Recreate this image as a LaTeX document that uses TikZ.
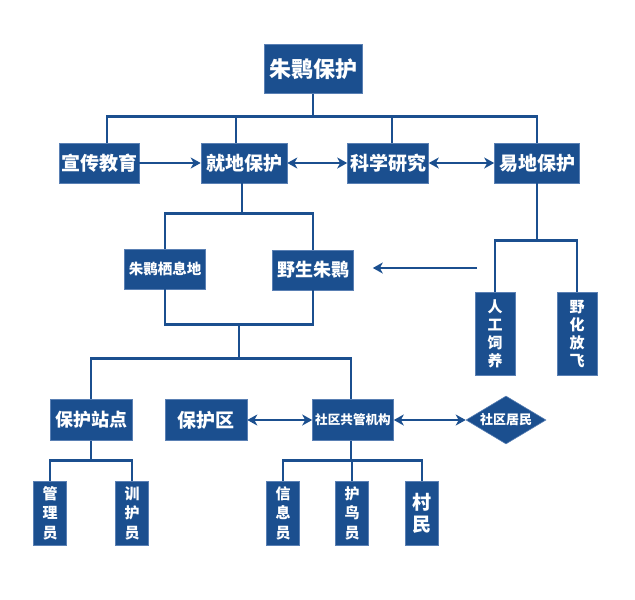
\documentclass[tikz,border=0pt]{standalone}
\usepackage{fontspec}
\usepackage{tikz}
\usetikzlibrary{arrows.meta,shapes.geometric,calc}
\newfontfamily\cjk{Noto Sans CJK SC}
\definecolor{ibisblue}{HTML}{1B4F8F}
\definecolor{ibisedge}{HTML}{5A80B4}
\newcommand{\cjkfs}[2]{\cjk\bfseries\fontsize{#1}{#2}\selectfont}

\begin{document}
\begin{tikzpicture}[x=1pt,y=-1pt]
  \tikzstyle{box}=[fill=ibisblue, draw=ibisedge, line width=0.6pt, text=white, inner sep=0pt, align=center]
  \tikzstyle{root}=[box, minimum width=98pt, minimum height=49pt, font=\cjkfs{22}{24}]
  \tikzstyle{mainbox}=[box, minimum height=40pt, font=\cjkfs{19}{21}]
  \tikzstyle{subbox}=[box, minimum width=81pt, minimum height=40pt, font=\cjkfs{18}{20}]
  \tikzstyle{tallbox}=[box, minimum width=40pt, minimum height=83pt, font=\cjkfs{15}{18}]
  \tikzstyle{staffbox}=[box, minimum width=33pt, minimum height=64pt, font=\cjkfs{15}{19.5}]
  \tikzstyle{gate}=[diamond, fill=ibisblue, draw=ibisedge, line width=0.6pt, text=white, inner sep=0pt,
    aspect=1.67, minimum width=80pt, minimum height=48pt, font=\cjkfs{13}{15}]
  \tikzstyle{link}=[draw=ibisblue, line width=2.6pt]
  \tikzstyle{arrow}=[link, -{Stealth[length=10pt,width=11pt,inset=3pt]}]
  \tikzstyle{both}=[link, {Stealth[length=10pt,width=11pt,inset=3pt]}-{Stealth[length=10pt,width=11pt,inset=3pt]}]

  \path[use as bounding box] (0,0) rectangle (635,600);

  \node[root] (top) at (313,69) {朱鹮保护};

  \node[mainbox, minimum width=80pt] (xuan) at (99,163) {宣传教育};
  \node[mainbox, minimum width=86pt] (jiudi) at (244,163) {就地保护};
  \node[mainbox, minimum width=81pt] (keyan) at (388,163) {科学研究};
  \node[mainbox, minimum width=85pt] (yidi) at (537,163) {易地保护};

  \node[subbox, font=\cjkfs{14.5}{16}] (qixi) at (165,269) {朱鹮栖息地};
  \node[subbox] (yesheng) at (313,270) {野生朱鹮};
  \coordinate (feed) at (477,268);

  \node[tallbox] (rengong) at (495,334) {人\\工\\饲\\养};
  \node[tallbox] (yehua) at (577,334) {野\\化\\放\\飞};

  \node[box, minimum width=82pt, minimum height=41pt, font=\cjkfs{18}{20}] (zhandian) at (91,420) {保护站点};
  \node[box, minimum width=82pt, minimum height=41pt, font=\cjkfs{19}{21}] (baohuqu) at (206,420) {保护区};
  \node[box, minimum width=81pt, minimum height=41pt, font=\cjkfs{12.6}{14}] (gongguan) at (353,420) {社区共管机构};
  \node[gate] (juming) at (506,420) {社区居民};

  \node[staffbox] (guanli) at (50,513) {管\\理\\员};
  \node[staffbox] (xunhu) at (132,513) {训\\护\\员};
  \node[staffbox] (xinxi) at (283,513) {信\\息\\员};
  \node[staffbox] (hudiao) at (352,513) {护\\鸟\\员};
  \node[staffbox, font=\cjkfs{19}{22}] (cunmin) at (422,513) {村\\民};

  \draw[link] (top.south) -- ++(0,24);
  \draw[link] ([xshift=8]xuan.north) -- ++(0,-26) -| (yidi.north);
  \draw[link] ([xshift=-8]jiudi.north) -- ++(0,-26);
  \draw[link] ([xshift=4]keyan.north) -- ++(0,-26);

  \draw[arrow] (xuan) -- (jiudi);
  \draw[both] (jiudi) -- (keyan);
  \draw[both] (keyan) -- (yidi);

  \draw[link] ([xshift=-2]jiudi.south) -- ++(0,31);
  \draw[link] (qixi.north) -- ++(0,-35) -| (yesheng.north);
  \draw[link] (qixi.south) -- ++(0,35) -| (yesheng.south);
  \draw[link] ($(qixi.south)!0.5!(yesheng.south)+(0,35)$) coordinate (mid) -- ++(0,34);
  \draw[link] (zhandian.north) -- ++(0,-41) -| ([xshift=-2]gongguan.north);

  \draw[link] (yidi.south) -- ++(0,58);
  \draw[link] (rengong.north) -- ++(0,-52) -| (yehua.north);
  \draw[arrow, shorten >=19pt] (feed) -- (yesheng.east |- feed);

  \draw[both] (baohuqu) -- (gongguan);
  \draw[both] (gongguan) -- (juming);

  \draw[link] (zhandian.south) -- ++(0,20);
  \draw[link] (guanli.north) -- ++(0,-20) -| (xunhu.north);
  \draw[link] ([xshift=-2]gongguan.south) -- ++(0,20);
  \draw[link] (xinxi.north) -- ++(0,-20) -| (cunmin.north);
  \draw[link] (hudiao.north) -- ++(0,-20);
\end{tikzpicture}
\end{document}
